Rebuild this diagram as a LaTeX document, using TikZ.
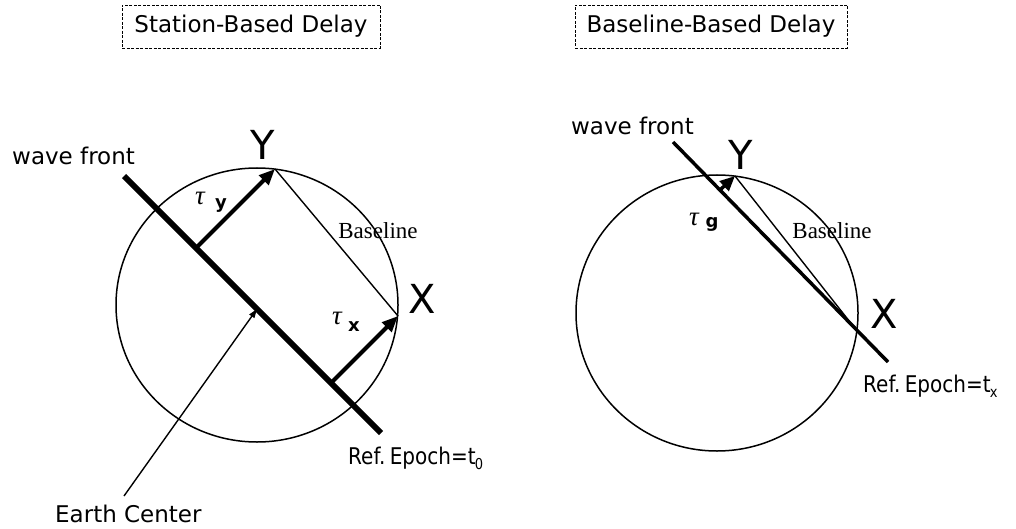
\documentclass[tikz,border=0pt]{standalone}
\usepackage{fontspec}
\setsansfont{DejaVu Sans}
\newfontfamily\tmsfont{Liberation Serif}
\usetikzlibrary{arrows.meta}
\tikzset{
  lbl/.style={font=\fontsize{23}{23}\selectfont\sffamily, inner sep=0pt},
  ptlbl/.style={font=\fontsize{40}{40}\selectfont\sffamily, inner sep=0pt},
  taulbl/.style={font=\fontsize{27}{27}\selectfont\tmsfont\itshape, inner sep=0pt},
  sublbl/.style={font=\fontsize{18}{18}\selectfont\sffamily\bfseries, inner sep=0pt},
  bltext/.style={font=\fontsize{23}{23}\selectfont\tmsfont, inner sep=0pt},
  titlebox/.style={draw, dash pattern=on 3pt off 1.5pt, line width=0.7pt,
    font=\fontsize{23}{23}\selectfont\sffamily, minimum height=43pt, inner sep=0pt},
  earth/.style={line width=1.5pt},
  wave/.style={line width=6pt},
  wavethin/.style={line width=3.5pt},
  delay/.style={line width=4pt, -{Triangle[length=16pt,width=13pt]}},
  delaysmall/.style={line width=3.5pt, -{Triangle[length=15pt,width=13pt]}},
  blline/.style={line width=1.4pt},
  pointer/.style={line width=1.4pt, -{Triangle[length=9pt,width=6pt]}},
}
\newcommand{\refepoch}[1]{\scalebox{0.87}[1]{Ref.\hspace{5pt}Epoch=t\kern-1pt\raisebox{-5pt}{\fontsize{15}{15}\selectfont #1}}}
\begin{document}
\begin{tikzpicture}[x=1pt,y=-1pt]
\useasboundingbox (0,0) rectangle (1016,529);
% titles
\node[titlebox, minimum width=258pt] (t1) at (251,26.5) {Station-Based Delay};
\node[titlebox, minimum width=272pt] (t2) at (711,26.5) {Baseline-Based Delay};

% ---------- left diagram ----------
\coordinate (C1) at (257,305);
\draw[earth] (C1) ellipse [x radius=141, y radius=137];
\coordinate (Y1) at (275,169);
\coordinate (X1) at (398,316);
\coordinate (W1a) at (124,176);
\coordinate (W1b) at (381,433);
\coordinate (F1y) at (196,248);
\coordinate (F1x) at (331,383);
\coordinate (F1c) at (257,309);
\coordinate (E1) at (124,496);
\draw[wave] (W1a) -- (W1b);
\draw[delay] (F1y) -- (Y1);
\draw[delay] (F1x) -- (X1);
\draw[blline] (Y1) -- (X1);
\draw[pointer] (E1) -- (F1c);

\node[lbl, anchor=base west] (wf1) at (12,165) {wave front};
\node[ptlbl, anchor=base] (ly1) at (263,160) {Y};
\node[ptlbl, anchor=base] (lx1) at (422,313) {X};
\node[taulbl] (tau1) at (200,198) {τ};
\node[sublbl] (sy1) at (221,206) {y};
\node[taulbl] (tau2) at (337,318) {τ};
\node[sublbl] (sx1) at (354,327) {x};
\node[bltext] (bl1) at (378,231) {Baseline};
\node[lbl, anchor=base west] (re1) at (348,464) {\refepoch{0}};
\node[lbl, anchor=base west] (ec) at (55,522) {Earth Center};

% ---------- right diagram ----------
\coordinate (C2) at (717,313);
\draw[earth] (C2) ellipse [x radius=141, y radius=138];
\coordinate (Y2) at (735,176);
\coordinate (X2) at (857,331);
\coordinate (W2a) at (673,142);
\coordinate (W2b) at (888,362);
\coordinate (F2y) at (720,190);
\draw[wavethin] (W2a) -- (W2b);
\draw[delaysmall] (F2y) -- (Y2);
\draw[blline] (Y2) -- (X2);

\node[lbl, anchor=base east] (wf2) at (694,135) {wave front};
\node[ptlbl, anchor=base] (ly2) at (741,170) {Y};
\node[ptlbl, anchor=base] (lx2) at (884,328) {X};
\node[taulbl] (tau3) at (694,219) {τ};
\node[sublbl] (sg) at (712,224) {g};
\node[bltext] (bl2) at (832,231) {Baseline};
\node[lbl, anchor=base west] (re2) at (863,392) {\refepoch{x}};
\end{tikzpicture}
\end{document}
